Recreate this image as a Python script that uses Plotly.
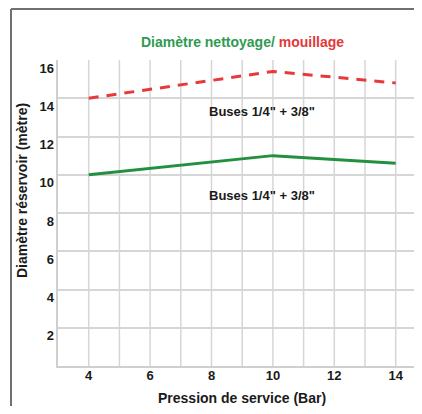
import plotly.graph_objects as go

pression = [4, 10, 14]
mouillage = [14.0, 15.4, 14.8]
nettoyage = [10.0, 11.0, 10.6]
x_ticks = [4, 6, 8, 10, 12, 14]
y_ticks = [2, 4, 6, 8, 10, 12, 14, 16]
label_buses = 'Buses 1/4" + 3/8"'

OFF = 8  # page body margin
W, H = 422 - 2 * OFF, 414 - 2 * OFF
L, R, T = 58 - OFF, 0, 60 - OFF
B = H - (366 - OFF)
pw = W - L - R
ph = H - T - B

FAM = "Liberation Sans, Arial, sans-serif"
DARK = "#1a1a1a"

y_lo, y_hi = 0, 16
lbl_shift = 8 * (y_hi - y_lo) / ph  # tick labels sit ~8px below their grid lines

fig = go.Figure()
fig.add_trace(go.Scatter(x=pression, y=mouillage, mode="lines",
                         line=dict(color="#e8393a", width=3, dash="10px,8px"),
                         showlegend=False, hoverinfo="skip"))
fig.add_trace(go.Scatter(x=pression, y=nettoyage, mode="lines",
                         line=dict(color="#23903f", width=3),
                         showlegend=False, hoverinfo="skip"))
fig.add_trace(go.Scatter(x=[], y=[], yaxis="y2", showlegend=False, hoverinfo="skip"))

fig.update_layout(
    width=W, height=H,
    margin=dict(l=L, r=R, t=T, b=B, pad=0, autoexpand=False),
    paper_bgcolor="white", plot_bgcolor="white",
    font=dict(family=FAM, size=13, color=DARK, weight="bold"),
    xaxis=dict(range=[3, 3 + pw / 30.7], tickvals=x_ticks,
               showgrid=False, zeroline=False, automargin=False,
               showline=True, linecolor="#cfcfcf", linewidth=2,
               ticks="", ticklabelstandoff=-4),
    yaxis=dict(range=[y_lo, y_hi], tickvals=y_ticks, automargin=False,
               showgrid=True, gridcolor="#d6d6d6", gridwidth=1.5,
               zeroline=False, showticklabels=False,
               showline=True, linecolor="#cfcfcf", linewidth=2,
               ticks=""),
    yaxis2=dict(range=[y_lo + lbl_shift, y_hi + lbl_shift], tickvals=y_ticks,
                overlaying="y", side="left", automargin=False,
                showgrid=False, zeroline=False, showline=False,
                ticks="", ticklabelstandoff=3),
)

def px_x(p):
    return (p - OFF - L) / pw

def px_y(p):
    return (H - B - (p - OFF)) / ph

shapes = []
for xv in range(4, 15):
    shapes.append(dict(type="line", xref="x", yref="paper", x0=xv, x1=xv, y0=0, y1=1,
                       line=dict(color="#d6d6d6", width=1.5), layer="below"))
fx = px_x(11)
fy = px_y(9)
shapes.append(dict(type="line", xref="paper", yref="paper", x0=fx, x1=fx, y0=px_y(420), y1=fy,
                   line=dict(color="#707070", width=2)))
shapes.append(dict(type="line", xref="paper", yref="paper", x0=fx, x1=px_x(430), y0=fy, y1=fy,
                   line=dict(color="#707070", width=2)))
fig.update_layout(shapes=shapes)

common = dict(xref="paper", yref="paper", showarrow=False, xanchor="center", yanchor="middle")
fig.add_annotation(**common, x=px_x(242), y=px_y(42),
                   text='<span style="color:#2e9a52">Diamètre nettoyage/</span><span style="color:#e5383b"> mouillage</span>',
                   font=dict(size=14, weight="bold", family=FAM))
fig.add_annotation(**common, x=px_x(242), y=px_y(398),
                   text="Pression de service (Bar)",
                   font=dict(size=14, weight="bold", family=FAM, color=DARK))
fig.add_annotation(**common, x=px_x(22), y=px_y(191), textangle=-90,
                   text="Diamètre réservoir (mètre)",
                   font=dict(size=14, weight="bold", family=FAM, color=DARK))
fig.add_annotation(x=9.65, y=13.3, text=label_buses, showarrow=False,
                   font=dict(size=13, weight="bold", family=FAM, color=DARK))
fig.add_annotation(x=9.65, y=8.9, text=label_buses, showarrow=False,
                   font=dict(size=13, weight="bold", family=FAM, color=DARK))

fig.write_html("out.html")
